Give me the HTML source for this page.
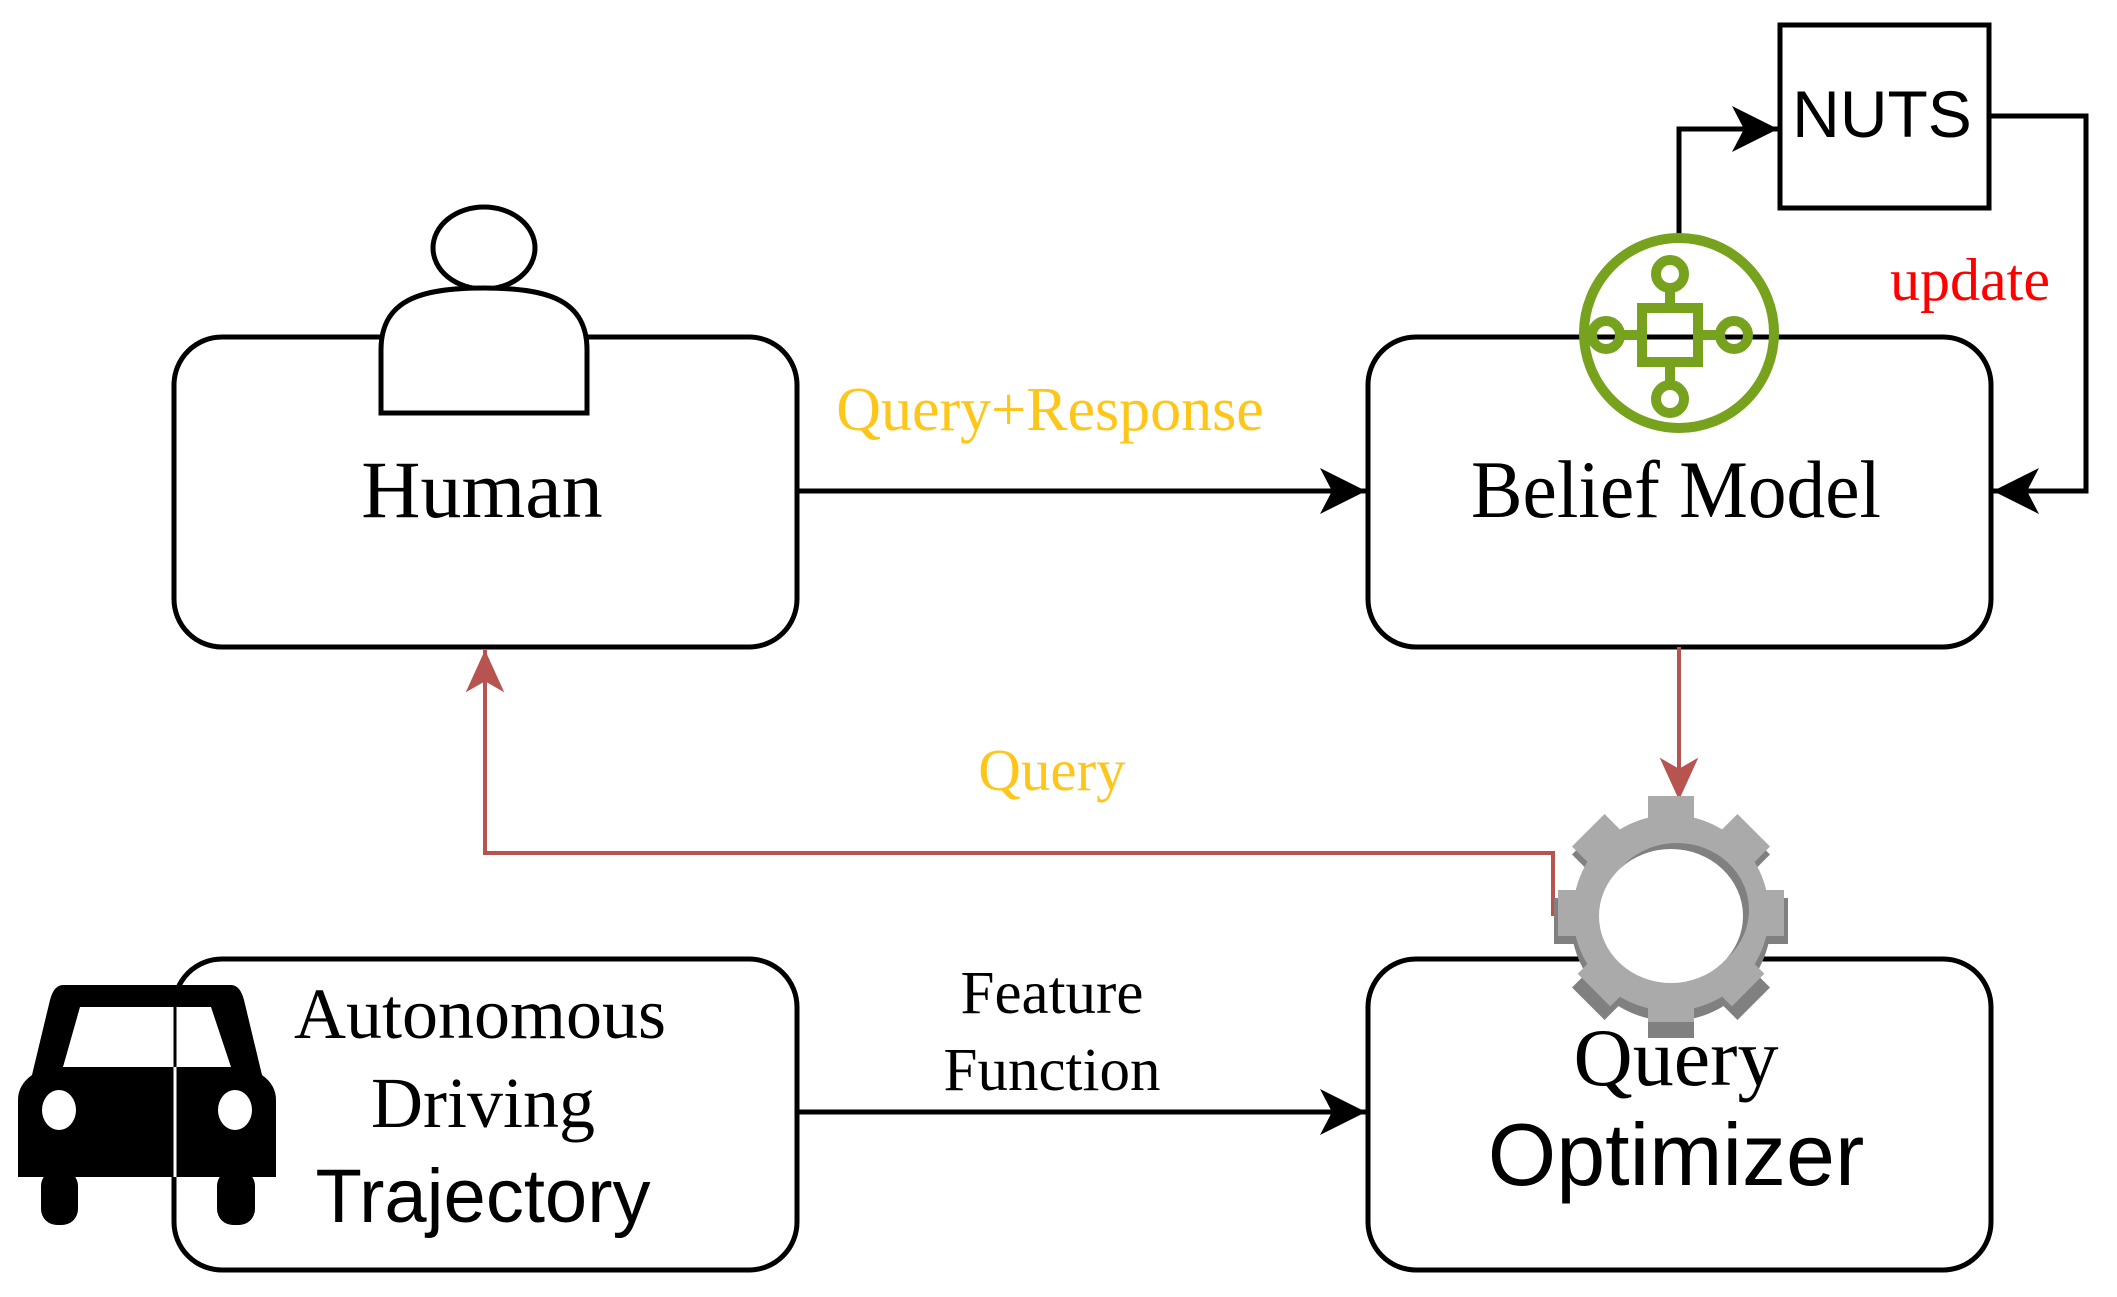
<!DOCTYPE html>
<html><head><meta charset="utf-8"><style>html,body{margin:0;padding:0;background:#fff}svg{display:block}</style></head>
<body>
<svg width="2117" height="1297" viewBox="0 0 2117 1297" xmlns="http://www.w3.org/2000/svg">
<defs>
<marker id="ab" viewBox="0 0 50 50" refX="46" refY="25" markerWidth="50" markerHeight="50" markerUnits="userSpaceOnUse" orient="auto">
<path d="M0,2 L46,25 L0,48 L12,25 Z" fill="#000"/></marker>
<marker id="ar" viewBox="0 0 50 50" refX="46" refY="25" markerWidth="46" markerHeight="46" markerUnits="userSpaceOnUse" orient="auto">
<path d="M0,4 L46,25 L0,46 L12,25 Z" fill="#b85450"/></marker>
</defs>
<g fill="none" stroke="#000" stroke-width="5">
<rect x="174" y="337" width="623" height="310" rx="48"/>
<rect x="1368" y="337" width="623" height="310" rx="48"/>
<rect x="174" y="959" width="623" height="311" rx="48"/>
<rect x="1368" y="959" width="623" height="311" rx="48"/>
<rect x="1780" y="25" width="209" height="183"/>
<line x1="797" y1="491" x2="1366" y2="491" marker-end="url(#ab)"/>
<line x1="797" y1="1112" x2="1366" y2="1112" marker-end="url(#ab)"/>
<polyline points="1679,237 1679,129 1778,129" marker-end="url(#ab)"/>
<polyline points="1989,116 2086,116 2086,491 1993,491" marker-end="url(#ab)"/>
</g>
<g fill="none" stroke="#b85450" stroke-width="4">
<line x1="1679" y1="647" x2="1679" y2="800" marker-end="url(#ar)"/>
<polyline points="1553,916 1553,853 485,853 485,650" marker-end="url(#ar)"/>
</g>
<g fill="#fff" stroke="#000" stroke-width="5">
<ellipse cx="484" cy="248" rx="51" ry="41"/>
<path d="M381,413 L381,350 C381,300 420,288 484,288 C548,288 587,300 587,350 L587,413 Z"/>
</g>
<g fill="none" stroke="#76a21e" stroke-width="10">
<circle cx="1679" cy="333" r="95"/>
<rect x="1642" y="308" width="56" height="54" fill="none"/>
<line x1="1670" y1="290" x2="1670" y2="308"/><line x1="1670" y1="362" x2="1670" y2="382"/>
<line x1="1624" y1="335" x2="1642" y2="335"/><line x1="1698" y1="335" x2="1716" y2="335"/>
<circle cx="1670" cy="274" r="14"/><circle cx="1670" cy="399" r="14"/>
<circle cx="1606" cy="335" r="14"/><circle cx="1734" cy="335" r="14"/>
</g>
<g>
<g fill="#808080" transform="translate(0,8)">
<g transform="translate(1671,913)">
<rect x="-23" y="-117" width="46" height="234"/>
<rect x="-23" y="-117" width="46" height="234" transform="rotate(45)"/>
<rect x="-23" y="-117" width="46" height="234" transform="rotate(90)"/>
<rect x="-23" y="-117" width="46" height="234" transform="rotate(135)"/>
<circle r="100"/></g></g>
<g fill="#aaaaaa" transform="translate(1671,913)">
<rect x="-23" y="-117" width="46" height="226"/>
<rect x="-23" y="-117" width="46" height="226" transform="rotate(45)"/>
<rect x="-23" y="-113" width="46" height="226" transform="rotate(90)"/>
<rect x="-23" y="-109" width="46" height="226" transform="rotate(135)"/>
<circle r="98"/></g>
<ellipse cx="1677" cy="910" rx="72" ry="67" fill="#808080"/>
<ellipse cx="1671" cy="916" rx="72" ry="67" fill="#fff"/>
</g>
<g fill="#000">
<path d="M63,985 L231,985 Q240,985 244,1000 L262,1075 Q276,1085 276,1100 L276,1177 L18,1177 L18,1100 Q18,1085 32,1075 L50,1000 Q54,985 63,985 Z"/>
<rect x="41" y="1170" width="37" height="55" rx="16"/>
<rect x="217" y="1170" width="38" height="55" rx="16"/>
</g>
<path d="M80,1007 L211,1007 L231,1067 L63,1067 Z" fill="#fff"/>
<line x1="175" y1="1007" x2="175" y2="1067" stroke="#000" stroke-width="3"/>
<line x1="175" y1="1067" x2="175" y2="1177" stroke="#fff" stroke-width="3"/>
<ellipse cx="59" cy="1110" rx="17" ry="20" fill="#fff"/>
<ellipse cx="235" cy="1110" rx="17" ry="20" fill="#fff"/>
<g font-family="'Liberation Serif', serif" text-anchor="middle">
<text x="482" y="517" font-size="82">Human</text>
<text x="1676" y="517" font-size="82" textLength="410" lengthAdjust="spacingAndGlyphs">Belief Model</text>
<text x="1050" y="430" font-size="62" fill="#ffc61a">Query+Response</text>
<text x="1052" y="790" font-size="59" fill="#ffc61a">Query</text>
<text x="1970" y="300" font-size="60" fill="#ff0000">update</text>
<text x="1052" y="1013" font-size="61">Feature</text>
<text x="1052" y="1090" font-size="61">Function</text>
<text x="480" y="1038" font-size="72">Autonomous</text>
<text x="483" y="1127" font-size="72">Driving</text>
<text x="1676" y="1085" font-size="82">Query</text>
</g>
<g font-family="'Liberation Sans', sans-serif" text-anchor="middle">
<text x="483" y="1222" font-size="76">Trajectory</text>
<text x="1676" y="1185" font-size="88">Optimizer</text>
<text x="1882" y="137" font-size="66">NUTS</text>
</g>
</svg>
</body></html>
